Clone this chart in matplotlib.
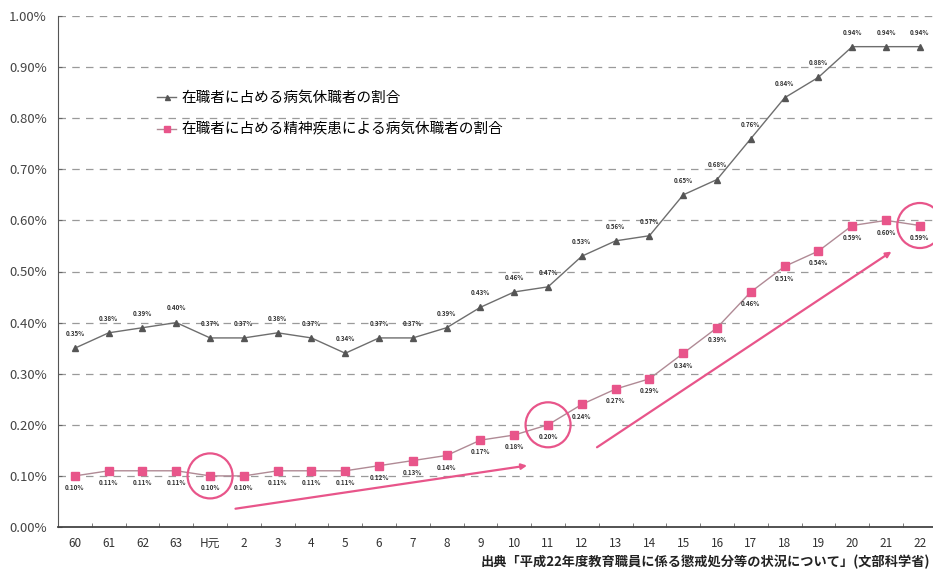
import matplotlib
matplotlib.use("Agg")
import matplotlib.pyplot as plt
import numpy as np

plt.rcParams['font.family'] = ['Noto Sans CJK JP', 'DejaVu Sans']

# 年度ラベル (S60〜H22)
years = ['60', '61', '62', '63', 'H元', '2', '3', '4', '5', '6', '7', '8', '9',
         '10', '11', '12', '13', '14', '15', '16', '17', '18', '19', '20', '21', '22']
# 在職者に占める病気休職者の割合 (%)
sick_rate = [0.35, 0.38, 0.39, 0.40, 0.37, 0.37, 0.38, 0.37, 0.34, 0.37, 0.37, 0.39, 0.43,
             0.46, 0.47, 0.53, 0.56, 0.57, 0.65, 0.68, 0.76, 0.84, 0.88, 0.94, 0.94, 0.94]
# 在職者に占める精神疾患による病気休職者の割合 (%)
mental_rate = [0.10, 0.11, 0.11, 0.11, 0.10, 0.10, 0.11, 0.11, 0.11, 0.12, 0.13, 0.14, 0.17,
               0.18, 0.20, 0.24, 0.27, 0.29, 0.34, 0.39, 0.46, 0.51, 0.54, 0.59, 0.60, 0.59]
circled = ['H元', '11', '22']

gray = '#6e6e6e'
pink = '#e8558a'

fig = plt.figure(figsize=(9.33, 5.73), dpi=100)
ax = fig.add_axes([58 / 933, 1 - 527 / 573, 875 / 933, 511 / 573])
x = np.arange(len(years))

ax.plot(x, sick_rate, color=gray, lw=1.0, marker='^', ms=4.5,
        mfc='#555555', mec='#555555', label='在職者に占める病気休職者の割合', zorder=3)
ax.plot(x, mental_rate, color='#b08a95', lw=1.0, marker='s', ms=6,
        mfc=pink, mec=pink, label='在職者に占める精神疾患による病気休職者の割合', zorder=3)

for xi, v in zip(x, sick_rate):
    ax.annotate(f'{v:.2f}%', (xi, v), xytext=(0, 8), textcoords='offset points',
                ha='center', va='bottom', fontsize=4.5, color='#333333', fontweight='bold')
for xi, v in zip(x, mental_rate):
    ax.annotate(f'{v:.2f}%', (xi, v), xytext=(0, -6), textcoords='offset points',
                ha='center', va='top', fontsize=4.5, color='#333333', fontweight='bold')

# 丸印
for lab in circled:
    i = years.index(lab)
    ax.scatter([i], [mental_rate[i]], s=1050, facecolors='none', edgecolors=pink,
               linewidths=1.6, zorder=4, clip_on=False)

# 矢印
ax.annotate('', xy=(13.46, 0.121), xytext=(4.67, 0.035),
            arrowprops=dict(arrowstyle='-|>', color=pink, lw=1.6, mutation_scale=8))
ax.annotate('', xy=(24.23, 0.542), xytext=(15.38, 0.153),
            arrowprops=dict(arrowstyle='-|>', color=pink, lw=1.6, mutation_scale=8))

ax.set_xlim(-0.5, 25.39)
ax.set_ylim(0, 1.0)
ax.set_yticks(np.arange(0, 1.01, 0.1))
ax.set_yticklabels([f'{t:.2f}%' for t in np.arange(0, 1.01, 0.1)], fontsize=9.5, color='#444444')
ax.set_xticks(x)
ax.set_xticklabels(years, fontsize=8.5, color='#333333')
ax.set_xticks(np.arange(-0.5, 25.5, 1), minor=True)
ax.tick_params(axis='x', which='major', length=0, pad=7)
ax.tick_params(axis='x', which='minor', length=3, direction='in', color='#666666')
ax.tick_params(axis='y', length=3, direction='in', color='#666666', pad=8)

for t in np.arange(0.1, 1.01, 0.1):
    ax.axhline(t, color='#9a9a9a', lw=0.9, ls=(0, (6, 5)), zorder=1)

for s in ['top', 'right']:
    ax.spines[s].set_visible(False)
ax.spines['left'].set_color('#555555')
ax.spines['bottom'].set_color('#444444')
ax.spines['bottom'].set_linewidth(1.3)

ax.legend(loc='upper left', bbox_to_anchor=(144 / 933, 1 - 78 / 573),
          bbox_transform=fig.transFigure, frameon=False, fontsize=10.5,
          handlelength=1.3, handletextpad=0.4, labelspacing=1.2, markerscale=0.8)

fig.text(930 / 933, 1 - 562 / 573,
         '出典「平成22年度教育職員に係る懲戒処分等の状況について」(文部科学省)',
         ha='right', va='center', fontsize=9.5, color='#222222', fontweight='bold')

fig.savefig('out.png', dpi=100)
